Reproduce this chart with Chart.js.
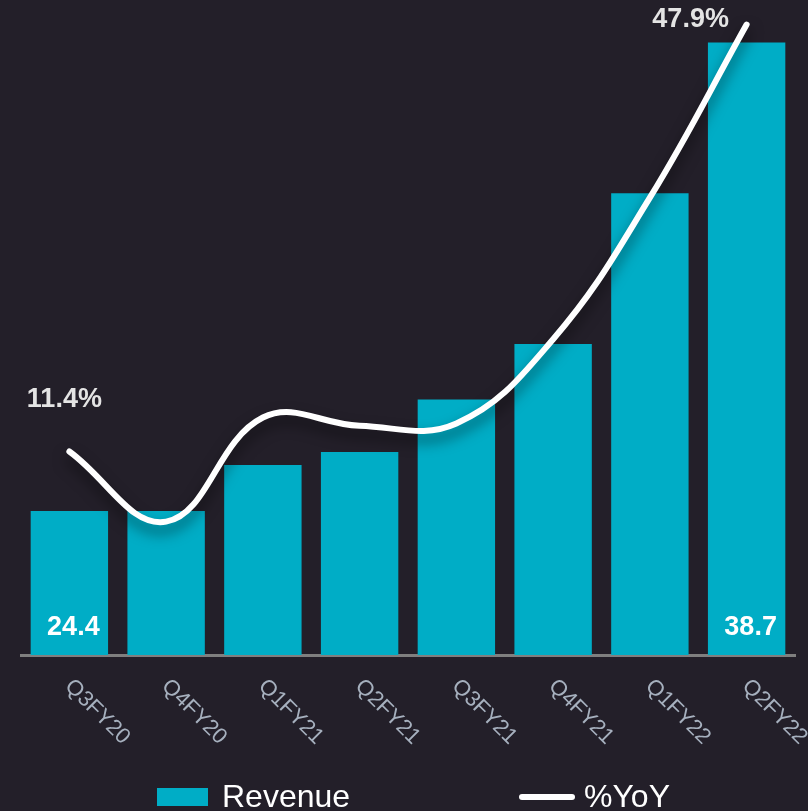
<!DOCTYPE html>
<html>
<head>
<meta charset="utf-8">
<script src="https://cdn.jsdelivr.net/npm/chart.js@4.4.1/dist/chart.umd.min.js"></script>
<style>
  html, body { margin: 0; padding: 0; background: #231f29; }
  #wrap { width: 808px; height: 811px; }
</style>
</head>
<body>
<div id="wrap"><canvas id="chart" width="808" height="811"></canvas></div>
<script>
const quarters = ["Q3FY20", "Q4FY20", "Q1FY21", "Q2FY21", "Q3FY21", "Q4FY21", "Q1FY22", "Q2FY22"];
const revenue = [24.4, 24.4, 25.8, 26.2, 27.8, 29.5, 34.1, 38.7];
const yoy = [11.4, 5.4, 14.3, 13.6, 13.8, 21.0, 33.1, 47.9];
const revenueLabelIdx = [0, 7];
const yoyLabelIdx = [0, 7];

const BG = "#231f29";
const TEAL = "#00adc6";

// draws rotated x labels, value labels and the legend
const extras = {
  id: "extras",
  beforeDatasetDraw(chart, args) {
    if (args.index === 1) {
      const c = chart.ctx;
      c.save();
      c.shadowColor = "rgba(0,0,0,0.55)";
      c.shadowBlur = 14;
      c.shadowOffsetY = 8;
    }
  },
  afterDatasetDraw(chart, args) {
    if (args.index === 1) chart.ctx.restore();
  },
  afterDraw(chart) {
    const c = chart.ctx;
    const x = chart.scales.x;
    const area = chart.chartArea;

    // rotated category labels
    c.save();
    c.fillStyle = "#a6b0be";
    c.font = "22px Arial, 'Liberation Sans', sans-serif";
    c.textAlign = "left";
    c.textBaseline = "middle";
    quarters.forEach((q, i) => {
      c.save();
      c.translate(x.getPixelForTick(i) - 1, area.bottom + 28);
      c.rotate(Math.PI / 4);
      c.fillText(q, 0, 0);
      c.restore();
    });
    c.restore();

    // value labels
    c.save();
    c.font = "bold 27px Arial, 'Liberation Sans', sans-serif";
    c.textAlign = "center";
    c.textBaseline = "middle";
    const bars = chart.getDatasetMeta(0).data;
    c.fillStyle = "#ffffff";
    revenueLabelIdx.forEach(i => {
      c.fillText(revenue[i].toFixed(1), bars[i].x + 4, area.bottom - 27);
    });
    const pts = chart.getDatasetMeta(1).data;
    c.fillStyle = "#e4e4e4";
    c.fillText(yoy[yoyLabelIdx[0]].toFixed(1) + "%", pts[yoyLabelIdx[0]].x - 5, pts[yoyLabelIdx[0]].y - 52);
    c.fillText(yoy[yoyLabelIdx[1]].toFixed(1) + "%", pts[yoyLabelIdx[1]].x - 56, pts[yoyLabelIdx[1]].y - 5);
    c.restore();

    // legend
    c.save();
    const ly = 797;
    c.fillStyle = TEAL;
    c.fillRect(157, ly - 9, 51, 18);
    c.strokeStyle = "#ffffff";
    c.lineWidth = 6;
    c.lineCap = "round";
    c.beginPath();
    c.moveTo(522, ly);
    c.lineTo(572, ly);
    c.stroke();
    c.fillStyle = "#ffffff";
    c.font = "32px Arial, 'Liberation Sans', sans-serif";
    c.textAlign = "left";
    c.textBaseline = "middle";
    c.fillText(chart.data.datasets[0].label, 222, ly + 1);
    c.fillText(chart.data.datasets[1].label, 584, ly + 1);
    c.restore();
  }
};

const ctx = document.getElementById("chart").getContext("2d");
new Chart(ctx, {
  data: {
    labels: quarters,
    datasets: [
      {
        type: "bar",
        label: "Revenue",
        data: revenue,
        backgroundColor: TEAL,
        borderWidth: 0,
        barPercentage: 0.8,
        categoryPercentage: 1.0,
        yAxisID: "y",
        order: 2,
      },
      {
        type: "line",
        label: "%YoY",
        data: yoy,
        borderColor: "#ffffff",
        borderWidth: 6,
        borderCapStyle: "round",
        tension: 0.4,
        pointRadius: 0,
        fill: false,
        yAxisID: "y1",
        order: 1,
      },
    ],
  },
  options: {
    responsive: false,
    animation: false,
    layout: { padding: { left: 21, right: 13, top: 0, bottom: 156 } },
    plugins: {
      legend: { display: false },
      tooltip: { enabled: false },
    },
    scales: {
      x: {
        ticks: { display: false },
        grid: { display: false, drawTicks: false },
        border: { display: true, color: "#7f7f7f", width: 3 },
      },
      y: {
        display: false,
        min: 20,
        max: 40,
      },
      y1: {
        display: false,
        min: -6,
        max: 50,
      },
    },
  },
  plugins: [extras],
});
</script>
</body>
</html>
